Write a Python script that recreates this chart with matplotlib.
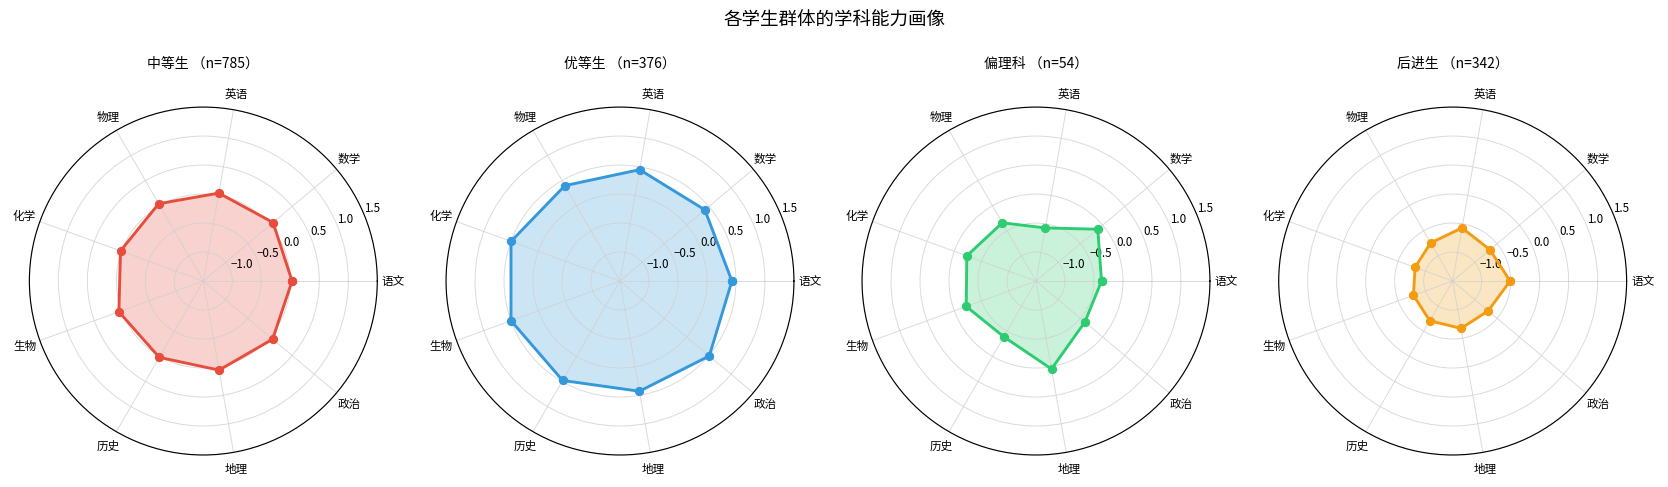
import numpy as np
import matplotlib
matplotlib.use('Agg')
import matplotlib.pyplot as plt

plt.rcParams['font.family'] = ['Noto Sans CJK SC', 'DejaVu Sans']
plt.rcParams['axes.unicode_minus'] = True

# 学科与各群体的标准化得分
subjects = ['语文', '数学', '英语', '物理', '化学', '生物', '历史', '地理', '政治']
group_names = ['中等生', '优等生', '偏理科', '后进生']
group_sizes = [785, 376, 54, 342]
group_colors = ['#e74c3c', '#3498db', '#2ecc71', '#f39c12']

mid_scores = [0.03, 0.07, 0.04, 0.04, 0.02, 0.05, 0.02, 0.06, 0.06]
top_scores = [0.43, 0.41, 0.45, 0.40, 0.50, 0.50, 0.48, 0.43, 0.51]
sci_scores = [-0.37, -0.11, -0.57, -0.34, -0.23, -0.22, -0.39, 0.04, -0.40]
low_scores = [-0.51, -0.66, -0.57, -0.74, -0.81, -0.78, -0.71, -0.67, -0.70]
all_scores = [mid_scores, top_scores, sci_scores, low_scores]

r_ticks = [-1.0, -0.5, 0.0, 0.5, 1.0, 1.5]


def draw_radar(ax, scores, color, title):
    n = len(subjects)
    angles = np.linspace(0, 2 * np.pi, n, endpoint=False).tolist()
    vals = list(scores) + [scores[0]]
    angles_c = angles + [angles[0]]
    ax.plot(angles_c, vals, 'o-', color=color, linewidth=2.5, markersize=7)
    ax.fill(angles_c, vals, color=color, alpha=0.25)
    ax.set_xticks(angles)
    ax.set_xticklabels(subjects, fontsize=10)
    ax.set_ylim(-1.5, 1.5)
    ax.set_yticks(r_ticks)
    ax.set_yticklabels([f'{t:.1f}'.replace('-', '\u2212') for t in r_ticks], fontsize=10)
    ax.grid(True, color='#d0d0d0', alpha=0.8, linewidth=0.8)
    ax.spines['polar'].set_linewidth(1.0)
    ax.set_title(title, fontsize=12, pad=35)


fig = plt.figure(figsize=(20, 5.85), dpi=83.4)
lefts = [0.0176, 0.2674, 0.5168, 0.7666]
for i in range(4):
    ax = fig.add_axes([lefts[i], 0.0656, 0.2086, 0.7131], projection='polar')
    draw_radar(ax, all_scores[i], group_colors[i],
               f'{group_names[i]} （n={group_sizes[i]}）')

fig.suptitle('各学生群体的学科能力画像', fontsize=16, y=0.976)
fig.savefig('out.png', dpi=83.4)
plt.close()
